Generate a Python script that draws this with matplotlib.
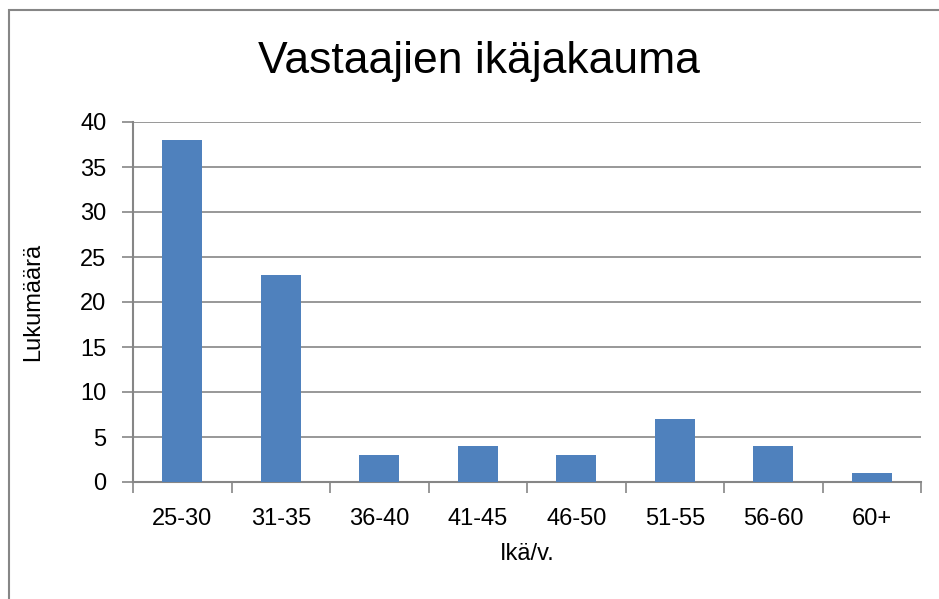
import matplotlib
matplotlib.use("Agg")
import matplotlib.pyplot as plt
from matplotlib.patches import Rectangle
import numpy as np

categories = ["25-30", "31-35", "36-40", "41-45", "46-50", "51-55", "56-60", "60+"]
counts = [38, 23, 3, 4, 3, 7, 4, 1]

plt.rcParams["font.family"] = ["Liberation Sans", "DejaVu Sans"]
grey = "#868686"

fig = plt.figure(figsize=(9.39, 5.99), dpi=100)
W, H = 939, 599
ax = fig.add_axes([133 / W, 1 - 482 / H, (921 - 133) / W, (482 - 122) / H])

x = np.arange(len(categories))
ax.bar(x, counts, width=0.41, color="#4f81bd", zorder=3)

ax.set_xlim(-0.5, len(categories) - 0.5)
ax.set_ylim(0, 40)
ax.set_yticks(range(0, 41, 5))
ax.grid(axis="y", color=grey, linewidth=1.2, zorder=0)

# category labels centred, tick marks on boundaries
ax.set_xticks(x)
ax.set_xticklabels(categories, fontsize=17)
ax.tick_params(axis="x", length=0, pad=19)
ax.set_xticks(np.arange(-0.5, len(categories)), minor=True)
ax.tick_params(axis="x", which="minor", length=8, width=1.2, color=grey)
ax.tick_params(axis="y", length=8, width=1.2, color=grey, labelsize=17, pad=11)

for side in ["top", "right"]:
    ax.spines[side].set_visible(False)
for side in ["left", "bottom"]:
    ax.spines[side].set_color(grey)
    ax.spines[side].set_linewidth(1.5)

ax.set_xlabel("Ikä/v.", fontsize=17, labelpad=9)
ax.set_ylabel("Lukumäärä", fontsize=17, labelpad=26)
fig.text(479 / W, 1 - 62 / H, "Vastaajien ikäjakauma", fontsize=32,
         ha="center", va="center")

# chart frame
fig.patches.append(Rectangle((9 / W, -0.05), 1.2, 1 - 10 / H + 0.05,
                             transform=fig.transFigure, fill=False,
                             edgecolor=grey, linewidth=1.5))

fig.savefig("out.png", dpi=100)
